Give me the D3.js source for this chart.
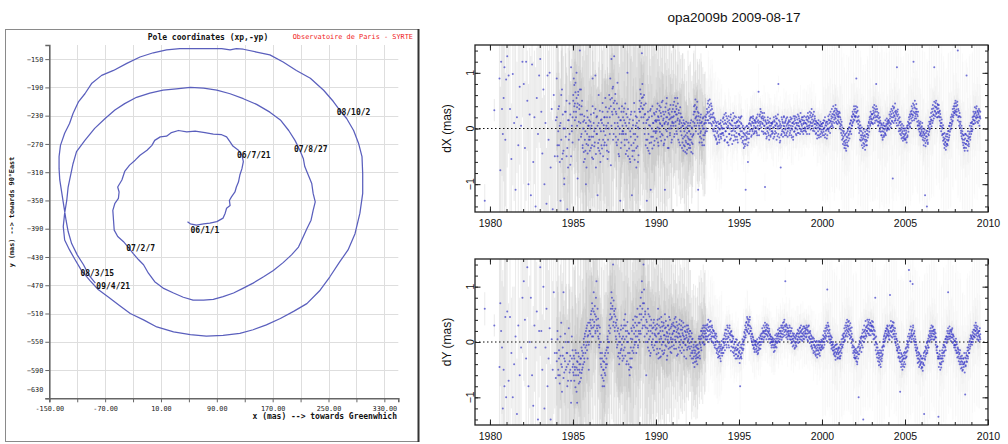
<!DOCTYPE html>
<html>
<head>
<meta charset="utf-8">
<script src="https://cdn.jsdelivr.net/npm/d3@7"></script>
<style>
body { margin: 0; background: #fff; }
svg { display: block; }
</style>
</head>
<body>
<svg id="chart" width="1008" height="444"></svg>
<script>
// ---- left chart : pole path, mas ----
var poleX = [48,52,61,71,80,90,99,102,104,109,108,111,116,118,121,123,126,128,126,121,113,109,104,97,85,73,59,47,35,25,18,9,1,-3,-10,-20,-27,-35,-42,-46,-52,-50,-51,-56,-59,-58,-57,-52,-44,-37,-30,-22,-15,-8,1,13,28,42,56,71,85,99,114,128,142,157,171,185,197,207,214,219,225,228,231,228,226,221,216,214,209,202,193,181,166,147,128,109,90,71,52,32,13,-6,-25,-42,-56,-70,-85,-99,-111,-116,-119,-123,-125,-128,-130,-128,-121,-113,-104,-92,-80,-65,-49,-34,-15,4,28,52,75,99,123,142,161,181,200,219,238,252,266,278,288,295,299,299,298,293,286,276,266,257,243,224,204,185,166,147,128,118,109,97,75,56,37,18,-1,-20,-39,-58,-75,-89,-99,-108,-116,-121,-128,-134,-136,-136,-135,-132,-129,-126,-123,-118,-110,-101,-93,-84];
var poleY = [-380,-383,-385,-383,-382,-380,-375,-368,-361,-357,-350,-345,-338,-331,-324,-314,-305,-295,-286,-279,-273,-267,-260,-257,-256,-254,-252,-253,-251,-254,-259,-260,-265,-272,-279,-286,-293,-300,-309,-321,-331,-338,-347,-354,-364,-378,-392,-401,-408,-416,-425,-434,-441,-453,-465,-474,-481,-487,-491,-491,-490,-486,-481,-474,-467,-458,-449,-438,-427,-416,-401,-390,-378,-364,-352,-340,-326,-314,-302,-291,-279,-265,-251,-236,-225,-214,-206,-199,-194,-191,-190,-192,-194,-198,-204,-213,-222,-234,-248,-265,-281,-298,-312,-331,-350,-368,-387,-406,-420,-434,-449,-463,-476,-487,-499,-510,-519,-529,-536,-540,-542,-541,-538,-533,-526,-517,-507,-496,-477,-458,-437,-420,-397,-368,-340,-312,-288,-269,-251,-234,-222,-210,-194,-177,-166,-154,-144,-140,-136,-135,-137,-135,-135,-135,-135,-137,-141,-147,-156,-166,-173,-184,-199,-210,-227,-241,-255,-272,-288,-305,-321,-340,-359,-378,-394,-411,-427,-441,-456,-467];
var dateLabels = ["06/1/1", "06/7/21", "07/2/7", "07/8/27", "08/3/15", "08/10/2", "09/4/21"];
var dateIndex = [0, 18, 49, 80, 110, 140, 179];
var gridX = [-150,-110,-70,-30,10,50,90,130,170,210,250,290,330];
var labelX = [-150,-70,10,90,170,250,330];
var gridY = [-150,-190,-230,-270,-310,-350,-390,-430,-470,-510,-550,-590,-630];

// ---- right charts : dX, dY (mas), one block per year, two passes per block ----
var blockStart = [1979.4,1980.55,1981,1982,1983,1984,1985,1986,1987,1988,1989,1990,1991,1992,1993,1994,1995,1996,1997,1998,1999,2000,2001,2002,2003,2004,2005,2006,2007,2008,2009];
var lastEpoch = 2009.55;
var dXvals = [
 [-1.3,.33],
 [.9,-.75,1.2,.35,-.1,.55,1.1,-.2,.88],
 [1.3,.95,.35,-.55,.98,.1,-1.1,.2,-.3,.75,.05,1.2],
 [.8,-.35,1.2,.5,-1.0,.25,-1.2,1.15,-.6,.2,-1.4,.55,-.1,.95],
 [1.25,.3,-.45,.7,-1.0,.1,-1.35,.95,-.2,1.0,-.7,.35,-1.45,.6,-.5,.15],
 [.9,-.5,.35,-.3,.05,-1.3,.6,-.55,.25,-.4,-.9,0,.3,-.5,-1.45,.15,-.2,.45,-.65,1.1,-.05,.2],
 [.6,.3,.78,.45,.82,.2,.55,.38,-.9,.66,.12,.42,1.4,.25,.7,-.1,.5,-.3,.12,-.42,.22,-.55,-.05,-1.0,-.28,.32,-.45,.05,-.2,.15],
 [-.2,.12,-.35,.05,-.52,.9,-.15,.28,-.32,0,.95,-.46,-.1,.22,-1.2,-.26,.1,-.4,.32,-.6,-.05,.16,-.36,.46,-.2,.06,-.3,.2,-.12,.38],
 [-.3,.2,-.55,.1,-.42,.36,-.1,.52,-.66,1.25,.3,.72,-.2,.46,1.3,.1,.62,-.15,.26,-.3,.82,.04,-.46,.36,-.1,-1.3,.15,-.25,.4,-.05],
 [.2,-.1,.36,-.3,.1,-.46,.26,-.2,1.0,-.5,0,-.36,.16,-.6,-.15,.3,-1.2,-.4,.06,-.26,.46,-.56,-.1,.22,-.7,.1,-.32,.02,-.48,.14],
 [.5,.3,.62,.46,1.35,.36,.56,.2,.42,-.1,.26,-.3,.1,-1.3,-.2,.16,-.4,.06,-.26,.32,-1.1,-.15,.22,-.36,.1,-.05,.28,-.22,.14,-.08],
 [.12,-.18,.35,.02,.22,-.31,.15,.41,-.06,.08,.28,-.22,.47,.05,-.12,.3,.18,-.27,.1,-1.1,.38,-.02,.2,.55,-.15,.07,.33,-.35,.16,.25,-.08,.42,0,.2,-.2,.12],
 [.35,.05,.22,.48,-.1,.3,.12,.4,-.05,.25,.55,.18,-.2,.33,.08,.15,-.3,.27,.02,-.12,.2,-.25,.05,-.4,.1,-.15,-.32,0,-.22,.12,-.45,-.08,-.28,.05,-.18,-.35],
 [-.05,-.3,.1,-.2,-.42,.02,-.15,-.28,.12,-.1,.3,.05,.42,.18,-.05,.35,.22,.48,.1,-1.1,.28,0,.15,-.15,.2,-.05,.1,-.25,.05,.18,-.12,0,-.3,.1,-.08,.15],
 [.1,.25,-.05,.3,.45,.15,.38,.22,.52,.1,.33,.2,.4,.05,.25,.12,-.05,.2,0,.15,-.15,.05,-.2,.1,-.08,-.25,.02,-.12,.08,-.2,-.02,.1,-.15,.05,-.1,0],
 [0,.18,-.12,.08,.25,-.2,.1,-.05,.22,.02,-.25,.12,.05,-.3,.15,-.1,0,.2,-.18,.06,-.12,.14,-.04,.28,-.22,0,.1,-.15,.05,.2,-.08,.12,-.2,.02,.15,-.1],
 [.05,-.12,.18,-.05,.1,.22,-.15,.02,-.22,-.08,-.28,-.02,-.32,-.12,-1.1,-.2,.04,-.18,-.06,-.6,-.25,.08,-.1,.15,-.02,.2,.05,-.12,.12,-.05,.18,0,.1,-.08,.15,.02],
 [.1,-.05,.2,-.12,.05,.15,.66,-.02,.12,.25,.08,.3,.02,.18,.1,.22,-.06,.15,.28,.05,-1.05,.12,-.1,.08,-.15,.02,.15,-.08,.1,-.2,.05,0,-.12,.1,-.05,.08],
 [-.05,.12,-.18,.02,.15,-.1,.06,.22,-.08,.1,.18,-.14,.04,.8,0,-.16,.12,-.22,-.7,.05,-.1,.16,-.02,.1,-.06,.2,.04,-.12,.12,0,.18,-.08,.08,-.15,.1,.02],
 [.06,-.12,.12,-.04,.16,0,-.16,.1,.04,-.2,.12,-.06,.18,.22,0,.1,-.12,.06,.16,-.08,.1,.22,.04,.14,-.1,.12,-.02,.16,.05,-.06,.2,.08,-.04,.14,0,.1],
 [.1,-.06,.16,.04,.22,0,.12,.18,-.1,.06,.24,.1,.28,.04,.16,.22,-.04,.12,.3,.08,.18,.02,.14,-.08,.06,.1,-.12,.02,.08,-.16,0,.06,-.1,.04,-.06,.08],
 [.04,-.12,.1,-.06,0,.14,-.16,.06,-.04,.12,-.02,-.12,.08,-.02,.16,0,.1,-.08,.14,.04,.22,.08,.26,.12,.02,.3,.16,.24,.36,.18,.28,.1,.32,.22,.15,.26],
 [.22,.1,.28,.04,.16,-.02,.06,-.12,-.04,-.18,-.08,-.24,-.3,-.12,-.26,-.36,-.2,-.08,-.3,-.16,-.02,-.22,-.1,.02,-.06,.1,0,.14,.06,.2,.1,.26,.16,.34,.22,.3],
 [.35,.22,.9,.3,.14,.32,.08,.22,0,.12,-.04,.06,-.12,-.16,.02,-.2,-.08,-.26,-.14,-.32,-.2,-.06,-.24,-.3,-.1,-.22,-.04,-.16,.02,.1,-.06,.16,.08,.22,.12,.26],
 [.16,.26,.08,.32,.2,.36,.24,.14,.34,.8,.22,.3,.12,.24,.06,.18,.1,-.02,.14,-.06,.06,-.12,.02,-.16,.06,-.06,-.12,-.02,.04,-.1,0,.08,-.04,.12,.02,.1],
 [0,.12,.05,.18,.22,.08,.26,.14,.32,-.9,.2,.36,.24,.14,.3,.18,.28,.1,1.1,.22,.34,.06,.18,0,.12,-.04,.06,-.12,.02,-.08,-.16,0,-.1,-.18,-.04,-.12],
 [-.1,-.2,-.04,-.16,.02,-.12,.06,-.06,.1,.16,.04,.22,.1,.26,.32,.14,.36,.24,1.2,.42,.28,.18,.36,.26,.44,.3,.12,.22,.06,.14,0,-.06,.08,-.1,.02,-.14],
 [.04,-.12,0,-.16,-.06,-.22,-.1,-1.2,-.26,-.14,-.04,-1.4,-.2,-.28,-.1,.02,-.06,.08,0,.12,.16,.04,.22,.3,.14,.36,.24,1.1,.4,.3,.46,.26,.38,.2,.44,.3],
 [.36,.22,.3,.14,.26,.1,.04,.16,0,-.1,.06,-.16,-.2,-.08,-.3,-.24,-.14,-.32,-.2,-.28,-.1,-.22,-.04,-.16,.04,-.06,.1,0,.16,.08,.22,.14,.3,.24,.36,.28],
 [.4,.3,.46,.34,.24,.42,1.4,.2,.32,.12,.22,.02,.12,-.04,-.14,0,-.1,-.2,-.3,-.12,-.26,-.34,-.18,-.1,-.28,.95,-.22,-.3,-.14,-.24,-.32,-.16,-.06,-.2,0,-.1],
 [.04,.12,-.02,.16,.22,.08,.26,.14,.3,.2,.36,.24,.12,.3,.2,.28,.14,.32,.22,.18]
];
var dXvals2 = [
 [],[],[],[],[],
 [.2,-.3,-.05,.4,-.6,.1,-.2,.7,-.45,0,-1.0,.3,-.15,.5,-.35,-.7,.15,-.1,.25,-.5,.05,-.25],
 [.5,.9,.4,.15,.65,.3,1.0,.05,.45,.6,-.2,.35,.7,.1,-.15,.4,.25,-.35,0,-.6,.15,-.2,-.4,.1,-.7,-.1,.2,-.3,.05,-.15],
 [-.4,0,.25,-.15,-.3,.4,-.55,.1,-.05,-.25,.35,-.7,.2,-.1,.05,-.35,.6,-.2,0,-.45,.15,-.3,.1,.3,-.5,-.05,.2,-.25,.55,0],
 [.05,-.4,.3,-.2,0,.6,.2,.9,.4,.05,.55,.25,.75,-.1,.35,.5,0,.3,-.25,.45,.1,-.2,.2,-.5,0,.15,-.35,.3,-.1,.05],
 [-.05,.3,.15,-.2,.45,-.1,.05,-.4,.2,.35,-.25,.1,-.55,-.05,.25,-.3,0,-.5,.15,-.1,-.4,.3,-.2,.05,-.35,.2,-.15,-.6,0,.35],
 [.3,.7,.4,.2,.55,.8,.35,.1,.6,.25,0,.45,-.2,.15,-.35,.3,-.1,.2,-.45,.05,.35,-.25,0,.4,-.15,.1,-.3,.25,-.05,.15],
 [.3,-.05,.15,.45,-.25,.2,0,.32,.1,-.15,.38,.22,-.1,.05,.5,.15,-.3,.25,.08,-.2,.3,.12,.45,-.05,.2,-.35,.1,.28,0,.35,-.12,.18,.05,-.25,.3,.1],
 [.2,.42,.1,-.15,.3,.55,.05,.25,.35,-.1,.15,.45,0,.28,-.25,.12,.38,-.05,.2,.1,-.35,.05,-.18,.15,-.3,-.05,.08,-.42,-.12,-.25,.02,-.38,-.15,.1,-.28,-.05],
 [-.2,.05,-.35,-.1,.15,-.25,0,-.45,-.12,.25,.4,.1,.3,.52,.2,.05,.38,.15,.3,-.1,.22,.05,-.25,.1,-.08,.25,-.18,.12,-.3,0,.2,-.2,.08,-.12,.22,-.05],
 [.2,0,.35,.15,.28,.5,.1,.3,.42,.18,.25,.45,.08,.35,.2,-.02,.28,.1,-.12,.18,-.05,.12,-.18,.05,-.28,-.05,.12,-.15,0,-.25,.08,-.1,.15,-.18,.02,-.08],
 [.12,-.08,.2,0,-.22,.15,-.05,.28,.08,-.15,.18,-.25,.02,.22,-.1,.1,-.2,.08,.25,-.05,.15,-.28,.05,0,.18,-.12,.22,-.05,-.2,.1,.02,-.15,.12,-.25,.05,.2],
 [-.1,.12,0,.2,-.18,.08,-.05,-.25,.05,-.15,-.35,-.1,-.2,.02,-.28,-.08,-.15,.05,-.3,-.1,.02,-.18,.1,-.05,.18,.08,-.15,.2,-.02,.1,.22,-.1,.05,.15,-.05,.12],
 [.02,.18,-.08,.12,.25,0,.1,-.12,.22,.05,.35,.12,.2,-.05,.28,.08,.18,-.1,.05,.2,-.08,.15,0,-.18,.1,-.05,.2,.02,-.12,.12,-.02,.18,-.15,.05,.1,-.1],
 [.1,-.08,.02,.2,-.15,.12,-.05,.05,.18,-.2,.08,0,.25,-.1,.15,.05,-.25,.08,.02,-.12,.2,-.05,.12,-.15,.05,.22,-.08,.1,-.02,.15,-.12,.05,.2,-.05,0,.12],
 [.15,0,-.08,.2,.05,-.12,.18,-.02,.1,-.15,.22,.08,-.05,.15,.02,-.1,.2,.1,-.02,.25,.05,-.08,.18,0,.12,.28,-.05,.08,.2,0,.15,-.1,.1,.22,.02,-.04],
 [0,.2,.08,-.1,.15,.28,.05,.2,.02,.3,.12,-.02,.2,.35,.1,.05,.25,0,.15,-.05,.22,.08,-.1,.12,0,-.18,.1,-.05,.15,-.12,.05,-.02,.12,-.15,.08,-.02],
 [-.08,.1,-.02,.15,-.12,.02,.2,-.1,.1,.05,-.18,.12,0,.22,-.05,.15,.25,.02,.3,.12,.18,.35,.05,.2,.4,.25,.1,.32,.2,.42,.12,.35,.25,.08,.3,.2],
 [.12,.3,0,.2,.08,-.08,.12,-.2,.02,-.28,-.15,-.05,-.35,-.22,-.1,-.3,-.4,-.15,-.25,-.05,-.32,-.12,.02,-.18,.08,-.05,.15,-.1,.22,.05,.3,.12,.25,.4,.15,.22],
 [.2,.4,.28,.12,.38,.2,.02,.15,-.08,.05,-.2,0,-.22,-.05,-.3,-.12,-.35,-.18,-.02,-.28,-.12,-.38,-.15,-.2,-.02,-.3,-.1,.05,-.12,.12,0,.2,.05,.3,.18,.1],
 [.25,.1,.38,.18,.28,.42,.1,.3,.2,.4,.15,.35,.2,.05,.28,.12,-.05,.2,.02,.1,-.12,.08,-.05,-.2,0,.1,-.15,.05,-.08,.15,-.12,.05,.18,-.02,.08,.15],
 [.15,-.02,.25,.1,.3,.02,.35,.2,.12,.4,.28,.1,.38,.22,.45,.15,.32,.25,.05,.3,.15,.25,-.05,.1,.2,-.1,.12,-.02,-.18,.08,-.05,-.22,.05,-.15,0,-.2],
 [-.18,0,-.08,-.25,.05,-.15,.12,0,.2,.08,.25,.02,.3,.18,.4,.25,.2,.45,.3,.15,.38,.5,.22,.3,.18,.35,.25,.05,.3,-.02,.1,.05,-.12,.12,-.08,-.02],
 [-.05,.1,-.2,-.08,-.3,-.12,-.02,-.18,-.32,-.08,-.22,-.15,-.05,-.25,.05,-.12,.12,-.02,.2,.08,.28,.15,.35,.1,.42,.25,.18,.48,.32,.22,.38,.5,.28,.35,.2,.42],
 [.28,.42,.2,.32,.05,.2,-.05,.1,-.12,.02,-.22,-.1,-.28,-.35,-.18,-.25,-.38,-.1,-.28,-.15,-.3,-.05,-.2,.05,-.12,.1,-.02,.2,.05,.25,.12,.35,.2,.4,.28,.45],
 [.32,.5,.25,.4,.3,.48,.15,.35,.22,.05,.28,.08,.2,-.08,.05,-.18,-.05,-.25,-.12,-.35,-.2,-.4,-.1,-.28,-.35,-.12,-.22,-.4,-.05,-.18,-.28,-.1,.05,-.15,.1,-.05],
 [.1,-.05,.2,.08,.3,.15,.22,.38,.1,.28,.18,.4,.2,.32,.1,.25,.35,.05,.2,.3]
];
var dYvals = [
 [.6,.3],
 [-.45,.7,.2,-.1,-1.2,-.5,-.8,.45,-1.0],
 [.55,-.7,.45,-.2,-1.0,-.4,.1,-1.3,.3,-.6,-.1,.8],
 [1.1,.4,-.3,1.35,-.8,0,.8,-.6,-1.15,.3,-.1,.55,-1.4,.2],
 [1.35,.2,-.5,1.0,-1.2,-.1,.6,-.8,-.3,.25,-1.4,.05,-.5,.9,-.2,-.65],
 [-.2,.2,-.5,-.3,-.6,.1,-.4,-.9,-.25,.9,-.55,-.35,0,-.45,-.2,-.7,.25,-.35,-.5,-1.1,-.3,-.15],
 [-.4,-.6,-.3,-.5,-.82,-.2,-.46,-1.1,-.36,-.6,-.26,-.5,-.72,-.4,-.3,-.56,-.16,-.46,-.2,.06,-.36,.1,-.1,.2,-.06,.3,-.3,.12,-.5,0],
 [.2,.4,.3,.56,.1,.6,.26,.9,.36,.5,.16,.46,1.1,.3,.2,.42,.06,-.1,.26,-.2,-.4,-.6,-.3,-.8,-.5,-.7,-.36,-.56,-.2,-.46],
 [-.3,-.1,.1,-.2,0,.3,.16,.5,.7,.42,.8,.6,1.4,.36,.56,.26,.46,.1,.3,-.1,.2,-.26,0,-.4,.1,-.2,.22,-.12,.06,-.34],
 [.1,-.3,.3,-.1,.5,.2,-.4,0,.36,-.2,.16,-.5,-.6,-.3,.06,-.46,.2,-.16,.4,-.1,.26,0,.46,.1,-.2,.3,.6,-.06,.2,.04],
 [.5,.2,.8,.4,1.1,.6,.3,1.4,.7,.1,.5,.26,-.6,.36,0,.6,.2,-.16,.46,.1,-.2,.3,0,.16,-.1,.26,.4,-.06,.12,.22],
 [.1,-.22,.32,0,.6,-.3,.16,.42,-.12,.26,-.26,.06,.36,-.16,.2,0,.3,-.2,.12,.5,-.06,.26,.1,-.32,.16,.04,.3,-.12,.22,0,.4,-.18,.08,.28,-.08,.14],
 [.16,.3,-.06,.2,.42,.04,.26,-.12,.36,.1,.22,-.22,.16,0,.32,.1,-.16,.22,.04,.38,-.1,.16,.26,-.02,.1,-.26,.2,.06,-.06,.12,.3,-.14,.18,.02,.24,-.08],
 [.1,-.12,.2,0,-.2,.16,-.16,.06,-.3,-.1,-.26,0,-.36,-.16,-.3,-.06,-.22,-.4,-.12,-.28,.06,-.18,-.02,-.3,.1,-.1,.06,.2,0,.16,.3,.08,.26,-.04,.2,.1],
 [.16,.04,.22,.32,.1,.26,0,.2,.36,.14,.28,.06,.1,.26,.16,0,.2,.1,-.06,.16,0,.06,-.12,.1,-.16,0,-.22,-.1,-.26,-.04,-.16,-.3,-.08,-.2,.02,-.12],
 [-.1,0,-.2,.06,-.06,.16,0,.1,.22,-.1,.06,.26,.1,-.06,.16,.3,.04,.12,-.16,.2,0,.1,-.1,.06,-.2,-.04,-.16,0,-.3,-.1,-.22,.04,-.14,-.26,-.06,-.18],
 [-.3,-.16,-.8,-.22,-.26,-.1,-.2,-.04,0,-.12,.1,.04,.16,.22,.08,.26,.36,.2,.42,.3,.24,.36,.16,.4,.28,.2,.06,.14,0,.1,-.06,.04,-.1,.02,-.14,-.04],
 [-.06,-.12,0,-.16,-.04,-.2,-.1,0,-.06,.06,-.12,.1,0,.06,.16,.1,.2,.04,.16,.26,.1,.2,.3,.14,.26,.2,.1,.3,.16,.24,.06,.14,0,.1,-.06,.04],
 [0,.06,-.1,0,-.06,-.16,-.04,.02,.06,-.1,.1,0,.06,.16,.1,0,.2,.1,.16,.26,.04,.2,.3,.14,.26,.36,.18,.3,1.1,.22,.32,.14,.26,.1,.2,.16],
 [.2,.1,.26,.16,.04,.2,.1,0,.16,.06,-.06,.1,0,-.1,.06,-.06,.1,0,.16,.04,.1,.2,0,.16,.26,.1,.2,.04,.16,.1,.24,.06,.18,.28,.1,.2],
 [.16,.22,.1,.26,.04,.2,.16,.3,.1,.06,.16,0,.12,-.06,.06,-.1,0,-.16,.06,-.06,-.1,-.22,0,-.16,-.06,-.22,-.1,0,-.16,-.06,-.2,-.1,0,-.14,.04,-.08],
 [-.06,0,.06,-.1,.1,0,.16,.06,.2,.1,.26,.95,.16,.3,.2,.1,.16,.04,0,.1,-.06,0,-.1,-.04,-.16,-.1,-.2,-.14,-.06,-.26,-.12,-.22,-.04,-.18,-.28,-.1],
 [-.2,-.1,-.26,-.3,-.16,-.04,-.2,0,-.1,.06,.1,0,.16,.04,.2,.1,.26,.16,.3,.2,.36,.24,.14,.3,.06,.34,.2,.1,.26,.04,-.06,.02,-.16,-.1,-.24,-.14],
 [-.2,-.3,-.16,-.26,-.36,-.1,-.22,-1.0,-.04,-.16,0,-.1,.06,.1,-.06,.16,-.1,-1.4,.1,0,.2,.06,.16,.26,.1,.2,.3,.16,.36,.24,.12,.3,.2,.34,.22,.28],
 [.3,.2,.36,.26,.14,.06,.2,.8,0,.1,-.1,-.04,-.2,-.16,-.3,-.24,-.36,-.2,-.4,-.26,-.16,-.3,-.1,-.22,0,-.06,.1,0,.16,.06,.2,.1,.24,.12,.28,.18],
 [.1,.16,.04,.85,.2,.26,.1,.3,.2,.36,.14,.26,.1,.2,0,.1,-.06,.06,-.1,-.16,-.04,-.2,-.26,-.1,-.3,-.9,-.36,-.2,-.4,-.26,-.32,-.44,-.3,-.2,-.36,-.24],
 [-.3,-.2,-.1,-.26,-.04,-.16,0,-.1,1.3,.06,.1,1.1,0,.16,.2,.1,1.05,.26,.06,.16,0,.1,-.1,0,-.16,-.2,-.1,-.3,-.24,-.36,-.2,-.32,-.42,-.26,-.38,-.3],
 [-.36,-.46,-.3,-.4,-.2,-1.3,-.3,-.16,-.26,-.1,-.2,0,-.16,-.06,.06,-.1,.1,0,.16,.04,.2,.1,.16,.26,.1,.2,.04,.14,.22,.08,.16,0,-.1,-.2,-.08,-.26],
 [-1.35,-.26,-.3,-.16,-.4,-.3,-.46,-.36,-.2,-.3,-.1,-.2,-.06,-.16,0,-.1,.06,0,.1,.04,.16,.9,.1,.2,.16,.06,.1,.2,.14,.22,.08,.14,0,.1,-.06,.02],
 [-.06,-.1,.06,-.16,-.04,-.2,-.1,-.26,-.14,-.3,-.2,-.36,-.26,-.4,-.3,-.46,-.36,-.5,-.3,-.4,-.2,-.36,-.95,-.44,-.3,-.24,-.36,-.16,-.26,-.1,-.2,0,-.12,.06,-.04,.1],
 [0,.06,.12,0,.16,.1,.22,.14,.26,.2,.3,.16,.22,.1,.16,.04,.12,.2,.08,.14]
];
var dYvals2 = [
 [],[],[],[],[],
 [-.35,.05,-.6,-.15,-.75,-.25,.35,-.45,-.1,-.65,-.3,.15,-.5,-.2,-.8,-.4,0,-.55,-.25,-.7,.1,-.45],
 [-.55,-.25,-.7,-.45,-.15,-.6,-.9,-.35,-.5,-.2,-.75,-.4,-.55,-.3,-.65,-.1,-.5,-.25,-.4,-.05,-.3,.15,-.2,0,.25,-.15,.1,.35,-.05,.2],
 [.35,.15,.5,.25,.7,.4,.1,.55,.3,.65,.2,.8,.4,.25,.6,.1,.3,-.05,.15,-.3,0,-.45,-.2,-.65,-.35,-.5,-.8,-.25,-.6,-.4],
 [-.15,-.4,.05,-.1,.2,0,.4,.25,.6,.9,.45,.65,.3,.75,.5,.2,.6,.35,.05,.4,-.05,.25,-.2,.15,-.3,0,-.15,.3,-.05,-.25],
 [.25,-.15,.4,.05,-.25,.3,.1,-.35,.2,0,-.4,.15,-.2,-.45,-.1,.25,-.3,.05,.3,-.2,.15,-.05,.35,.2,0,.45,.1,-.1,.35,.15],
 [.35,.65,.15,.5,.9,.25,.7,.45,.95,.3,.55,0,.4,.15,.25,-.1,.5,.05,.3,-.25,.2,.4,-.05,.25,.05,.35,-.15,.15,.3,0],
 [0,.25,-.12,.4,.15,-.2,.3,.05,-.28,.2,.1,.45,-.05,.28,0,-.22,.35,.12,-.15,.25,.05,.38,-.08,.18,-.25,.3,.1,-.02,.45,.15,-.1,.25,.05,-.2,.32,0],
 [.05,.35,.2,-.12,.28,.1,.45,0,.18,-.25,.3,.08,.25,-.1,.15,.4,-.05,.1,.3,-.2,.22,0,.12,.35,-.15,.05,.28,-.05,.18,-.3,.08,.22,-.1,.3,.05,.15],
 [-.02,.2,-.25,.1,-.08,-.3,.05,-.2,-.38,-.05,-.15,-.45,-.2,-.08,-.25,-.35,-.1,-.28,-.05,-.2,-.12,.1,-.25,.05,-.05,.2,-.15,.12,.25,-.02,.1,.2,-.05,.15,.3,.05],
 [.25,.1,.3,.05,.2,.4,.12,.28,.05,.22,.38,.18,.02,.3,.1,.22,-.02,.2,.08,-.1,.12,-.05,.15,-.2,.02,-.12,-.28,0,-.18,-.08,-.25,-.12,-.35,-.05,-.15,-.25],
 [-.2,.05,-.1,-.02,.12,-.15,.22,.05,-.05,.15,.3,0,.2,.08,-.1,.25,.15,0,.18,-.08,.12,.02,-.18,.1,-.1,-.25,0,-.12,-.22,.05,-.15,-.3,-.05,-.12,-.25,-.02],
 [-.2,-.38,-.1,-.28,-.05,-.3,-.12,.05,-.15,.02,-.05,.18,.08,.3,.12,.35,.22,.45,.18,.32,.4,.15,.3,.45,.2,.1,.25,.02,.15,-.05,.08,-.12,0,-.18,-.05,.02],
 [.02,-.18,-.08,.05,-.22,-.02,-.15,.08,-.12,0,.12,-.05,.15,.05,.25,0,.18,.3,.08,.2,.35,.15,.22,.05,.32,.12,.25,.18,.05,.2,.12,-.02,.1,.05,-.1,0],
 [.08,-.05,.02,-.18,.05,-.1,.12,-.08,0,.15,-.02,.12,.22,.02,.15,.25,.05,.2,.1,.3,.15,.08,.25,.35,.1,.22,.4,.12,.28,.2,.08,.3,.18,.05,.25,.12],
 [.12,.3,.05,.2,.1,-.02,.25,.05,-.08,.12,.02,.15,-.12,.08,-.02,.12,-.08,.15,.05,.22,-.02,.15,.08,.25,.05,.18,.3,.1,.22,.02,.15,.28,.12,.05,.25,.15],
 [.25,.08,.3,.15,.22,.02,.28,.08,.18,-.02,.2,.05,-.08,.1,-.12,0,.08,-.2,-.05,.02,-.18,-.08,-.25,-.12,.02,-.28,-.15,-.05,-.22,.02,-.12,-.25,-.05,-.15,0,-.1],
 [.02,-.12,.12,.05,.2,-.05,.08,.25,.12,.3,.02,.22,.35,.1,.28,.05,.22,-.02,.12,.05,-.12,.08,-.05,-.15,0,-.22,-.08,-.25,-.18,-.32,-.05,-.2,-.12,-.3,-.15,-.22],
 [-.12,-.3,-.18,-.05,-.25,-.12,.05,-.08,.12,-.05,.15,.08,.25,.02,.3,.12,.35,.22,.4,.1,.28,.18,.38,.22,.12,.25,.08,-.02,.15,-.1,.05,-.2,-.08,-.28,-.18,-.3],
 [-.28,-.12,-.35,-.2,-.4,-.18,-.3,-.08,-.22,.02,-.12,.08,-.02,-.18,.1,.02,.22,.08,.18,.3,.1,.22,.38,.12,.28,.2,.4,.25,.32,.15,.4,.22,.35,.12,.3,.2],
 [.38,.15,.28,.05,.22,.12,-.05,.08,-.15,-.02,-.22,-.28,-.1,-.35,-.2,-.42,-.28,-.15,-.32,-.45,-.2,-.35,-.25,-.08,-.15,.05,-.08,.12,.02,.2,.08,.25,.15,.3,.22,.12],
 [.2,.05,.3,.12,.25,.38,.18,.28,.08,.3,.22,.35,.15,.05,.25,-.02,.15,.05,-.15,.02,-.12,-.28,-.08,-.2,-.35,-.15,-.28,-.45,-.22,-.35,-.5,-.25,-.4,-.3,-.45,-.18],
 [-.4,-.12,-.28,-.18,.02,-.08,.1,-.05,.15,.02,.22,.08,.28,.12,.05,.22,.12,.3,.15,.02,.2,-.05,.05,-.15,-.05,-.25,-.12,-.38,-.18,-.3,-.45,-.22,-.35,-.4,-.25,-.48],
 [-.45,-.3,-.52,-.38,-.25,-.42,-.18,-.32,-.08,-.22,-.12,-.02,-.2,.02,-.1,.12,.02,.2,.08,.25,.12,.3,.05,.2,.28,.15,.22,.05,.18,.1,-.05,.08,-.15,-.08,-.2,-.3],
 [-.3,-.45,-.22,-.38,-.5,-.25,-.4,-.3,-.15,-.25,-.35,-.05,-.18,-.25,-.08,.05,-.15,.1,-.02,.2,.08,.25,.05,.15,.28,.1,.22,.02,.18,.08,.25,-.02,.12,.05,-.1,-.05],
 [.02,-.15,-.05,-.2,0,-.28,-.12,-.18,-.35,-.22,-.4,-.15,-.3,-.48,-.35,-.25,-.52,-.4,-.3,-.45,-.38,-.55,-.28,-.42,-.2,-.35,-.25,-.1,-.3,-.15,-.05,-.2,.02,-.08,.12,0],
 [.08,-.05,.18,.05,.22,.1,.3,.08,.2,.35,.12,.25,.05,.28,.18,.02,.2,.1,.25,.05]
];
// formal errors (mas), cycled through each block
var errVals = [
 [.3,.2],[2.5,1.5,3,1.2],[2,1.4,2.8,1],[1.8,1.2,2.5,.9],[1.6,2.2,1,2.6],[1.3,.8,2,1.5,.6],
 [1,.6,1.6,.8,2.2],[1.1,.5,1.8,.7],[1.2,.6,2.2,.8],[1,.5,1.6,.7,2.2],[1.2,.6,2,.8],
 [.8,.4,1.6,.5],[.7,.35,1.3,.5],[.6,.3,1.1,.4],[.45,.2,.9,.3],
 [.25,.15,.5,.2],[.25,.15,.5,.2],[.25,.15,.5,.2],[.25,.15,.5,.2],[.25,.15,.5,.2],[.25,.15,.5,.2],
 [.3,.15,1.4,.2,.6],[.3,.15,1.4,.2,.6],[.3,.15,1.4,.2,.6],[.3,.15,1.4,.2,.6],[.3,.15,1.4,.2,.6],
 [.3,.15,1.4,.2,.6],[.3,.15,1.4,.2,.6],[.3,.15,1.4,.2,.6],[.3,.15,1.4,.2,.6],[.3,.15,1.4,.2,.6]
];
var yearTicks = [1980,1985,1990,1995,2000,2005,2010];
var valTicks = [-1,0,1];

var svg = d3.select("#chart");
svg.append("rect").attr("width", 1008).attr("height", 444).attr("fill", "#fff");

var mono = "'DejaVu Sans Mono', monospace";
var sans = "'Liberation Sans', Arial, sans-serif";

// ================= left : pole coordinates =================
var x = d3.scaleLinear().domain([-150, 350]).range([49.3, 398.3]);
var y = d3.scaleLinear().domain([-630, -130]).range([398.3, 45]);

svg.append("rect").attr("x", 5.5).attr("y", 29.5).attr("width", 413).attr("height", 412)
   .attr("fill", "none").attr("stroke", "#8a8a8a");
svg.append("line").attr("x1", 418.5).attr("x2", 418.5).attr("y1", 29).attr("y2", 442)
   .attr("stroke", "#333").attr("stroke-width", 2);

var grid = svg.append("g").attr("stroke", "#dedede").attr("stroke-width", 1);
grid.selectAll(".gx").data(gridX.slice(1)).enter().append("line")
   .attr("x1", function(d) { return Math.round(x(d)) + 0.5; })
   .attr("x2", function(d) { return Math.round(x(d)) + 0.5; })
   .attr("y1", y(-130)).attr("y2", y(-630));
grid.selectAll(".gy").data(gridY.slice(0, -1)).enter().append("line")
   .attr("y1", function(d) { return Math.round(y(d)) + 0.5; })
   .attr("y2", function(d) { return Math.round(y(d)) + 0.5; })
   .attr("x1", x(-150)).attr("x2", x(350));

var xAxis = svg.append("g").attr("transform", "translate(0," + y(-630) + ")")
   .call(d3.axisBottom(x).tickValues(gridX).tickSize(4).tickPadding(4)
      .tickFormat(function(d) { return labelX.indexOf(d) >= 0 ? d.toFixed(2) : ""; }));
var yAxis = svg.append("g").attr("transform", "translate(" + x(-150) + ",0)")
   .call(d3.axisLeft(y).tickValues(gridY).tickSize(4).tickPadding(2).tickFormat(d3.format("d")));
[xAxis, yAxis].forEach(function(a) {
  a.select(".domain").attr("stroke", "#666").attr("stroke-width", 1.6);
  a.selectAll(".tick line").attr("stroke", "#666");
  a.selectAll("text").attr("font-family", mono).attr("font-size", 6.8).attr("fill", "#222");
});
yAxis.selectAll(".tick").filter(function(d) { return d == -630; }).select("text").attr("y", -9);

svg.append("path")
   .datum(d3.range(poleX.length))
   .attr("fill", "none").attr("stroke", "#5a5fbd").attr("stroke-width", 1.25)
   .attr("stroke-linejoin", "round")
   .attr("d", d3.line().x(function(i) { return x(poleX[i]); }).y(function(i) { return y(poleY[i]); }));

var nudge = [[3, 11], [-5, 3], [-2, 4], [-6, 2], [-1, 6], [-3, 5], [1, 6]];
svg.append("g").selectAll("text").data(dateLabels).enter().append("text")
   .attr("x", function(d, i) { return x(poleX[dateIndex[i]]) + nudge[i][0]; })
   .attr("y", function(d, i) { return y(poleY[dateIndex[i]]) + nudge[i][1]; })
   .attr("font-family", mono).attr("font-size", 8).attr("font-weight", "bold").attr("fill", "#111")
   .text(function(d) { return d; });

svg.append("text").attr("x", 208).attr("y", 40).attr("text-anchor", "middle")
   .attr("font-family", mono).attr("font-size", 8).attr("font-weight", "bold").attr("fill", "#111")
   .text("Pole coordinates (xp,-yp)");
svg.append("text").attr("x", 413).attr("y", 38.5).attr("text-anchor", "end")
   .attr("font-family", mono).attr("font-size", 6.9).attr("fill", "#f02020")
   .text("Observatoire de Paris - SYRTE");
svg.append("text").attr("x", 397).attr("y", 418.5).attr("text-anchor", "end")
   .attr("font-family", mono).attr("font-size", 8).attr("font-weight", "bold").attr("fill", "#111")
   .text("x (mas) --> towards Greenwhich");
svg.append("text").attr("transform", "translate(14,212) rotate(-90)").attr("text-anchor", "middle")
   .attr("font-family", mono).attr("font-size", 6.8).attr("font-weight", "bold").attr("fill", "#111")
   .text("y (mas) --> towards 90\u00b0East");

// ================= right : dX / dY =================
svg.append("text").attr("x", 734).attr("y", 22).attr("text-anchor", "middle")
   .attr("font-family", sans).attr("font-size", 13.5).attr("fill", "#111")
   .text("opa2009b 2009-08-17");

var xR = d3.scaleLinear().domain([1979.1, 2010]).range([475, 988]);

function drawPanel(passes, top, bottom, title, id) {
  var yR = d3.scaleLinear().domain([-1.5, 1.5]).range([bottom, top]);
  var g = svg.append("g");

  g.append("clipPath").attr("id", id).append("rect")
   .attr("x", 475).attr("y", top).attr("width", 513).attr("height", bottom - top);

  var pts = [];
  passes.forEach(function(vals, p) {
    blockStart.forEach(function(t0, k) {
      var t1 = k + 1 < blockStart.length ? blockStart[k + 1] : lastEpoch;
      var v = vals[k], e = errVals[k];
      v.forEach(function(d, i) {
        pts.push({ t: t0 + (i + 0.5) * (t1 - t0) / v.length, v: d, e: e[(i + p) % e.length] });
      });
    });
  });

  var plot = g.append("g").attr("clip-path", "url(#" + id + ")");
  plot.selectAll(".err").data(pts).enter().append("line")
    .attr("x1", function(d) { return xR(d.t); })
    .attr("x2", function(d) { return xR(d.t); })
    .attr("y1", function(d) { return yR(d.v + d.e); })
    .attr("y2", function(d) { return yR(d.v - d.e); })
    .attr("stroke", function(d) { return d.t < 1993 ? "#b8b8b8" : "#cacaca"; })
    .attr("stroke-opacity", function(d) { return d.t < 1993 ? 0.3 : 0.2; })
    .attr("stroke-width", function(d) { return d.t < 1993 ? 1 : 0.5; });

  plot.append("line").attr("x1", 475).attr("x2", 988).attr("y1", yR(0)).attr("y2", yR(0))
    .attr("stroke", "#111").attr("stroke-width", 1.1).attr("stroke-dasharray", "1.5,2.5");

  plot.selectAll(".pt").data(pts).enter().append("circle")
    .attr("cx", function(d) { return xR(d.t); })
    .attr("cy", function(d) { return yR(d.v); })
    .attr("r", 1)
    .attr("fill", "#3838c8").attr("fill-opacity", 0.7);

  // frame and ticks
  var minorYears = d3.range(1980, 2011);
  var minorVals = [-1.4,-1.2,-1,-0.8,-0.6,-0.4,-0.2,0,0.2,0.4,0.6,0.8,1,1.2,1.4];
  var axes = [
    g.append("g").attr("transform", "translate(0," + bottom + ")")
      .call(d3.axisBottom(xR).tickValues(minorYears).tickSize(-3).tickFormat("")),
    g.append("g").attr("transform", "translate(0," + top + ")")
      .call(d3.axisTop(xR).tickValues(minorYears).tickSize(-3).tickFormat("")),
    g.append("g").attr("transform", "translate(0," + top + ")")
      .call(d3.axisTop(xR).tickValues(yearTicks).tickSize(-5.5).tickFormat("")),
    g.append("g").attr("transform", "translate(475,0)")
      .call(d3.axisLeft(yR).tickValues(minorVals).tickSize(-3).tickFormat("")),
    g.append("g").attr("transform", "translate(475,0)")
      .call(d3.axisLeft(yR).tickValues(valTicks).tickSize(-5.5).tickFormat("")),
    g.append("g").attr("transform", "translate(988,0)")
      .call(d3.axisRight(yR).tickValues(minorVals).tickSize(-3).tickFormat("")),
    g.append("g").attr("transform", "translate(988,0)")
      .call(d3.axisRight(yR).tickValues(valTicks).tickSize(-5.5).tickFormat("")),
    g.append("g").attr("transform", "translate(0," + bottom + ")")
      .call(d3.axisBottom(xR).tickValues(yearTicks).tickSize(-5.5).tickPadding(7.5).tickFormat(d3.format("d")))
  ];
  axes.forEach(function(a) {
    a.select(".domain").remove();
    a.selectAll(".tick line").attr("stroke", "#222").attr("stroke-width", 1);
    a.selectAll("text").attr("font-family", sans).attr("font-size", 10.5).attr("fill", "#111");
  });

  g.append("rect").attr("x", 475).attr("y", top).attr("width", 513).attr("height", bottom - top)
    .attr("fill", "none").attr("stroke", "#222").attr("stroke-width", 1.3);

  g.selectAll(".vl").data(valTicks).enter().append("text")
    .attr("transform", function(d) { return "translate(473.5," + yR(d) + ") rotate(-90)"; })
    .attr("text-anchor", "middle")
    .attr("font-family", sans).attr("font-size", 10.5).attr("fill", "#111")
    .text(function(d) { return d < 0 ? "\u2212" + Math.abs(d) : d; });

  g.append("text")
    .attr("transform", "translate(451," + ((top + bottom) / 2) + ") rotate(-90)")
    .attr("text-anchor", "middle")
    .attr("font-family", sans).attr("font-size", 12).attr("fill", "#111")
    .text(title);
}

drawPanel([dXvals, dXvals2], 45, 212, "dX (mas)", "clipX");
drawPanel([dYvals, dYvals2], 259, 425, "dY (mas)", "clipY");
</script>
</body>
</html>
